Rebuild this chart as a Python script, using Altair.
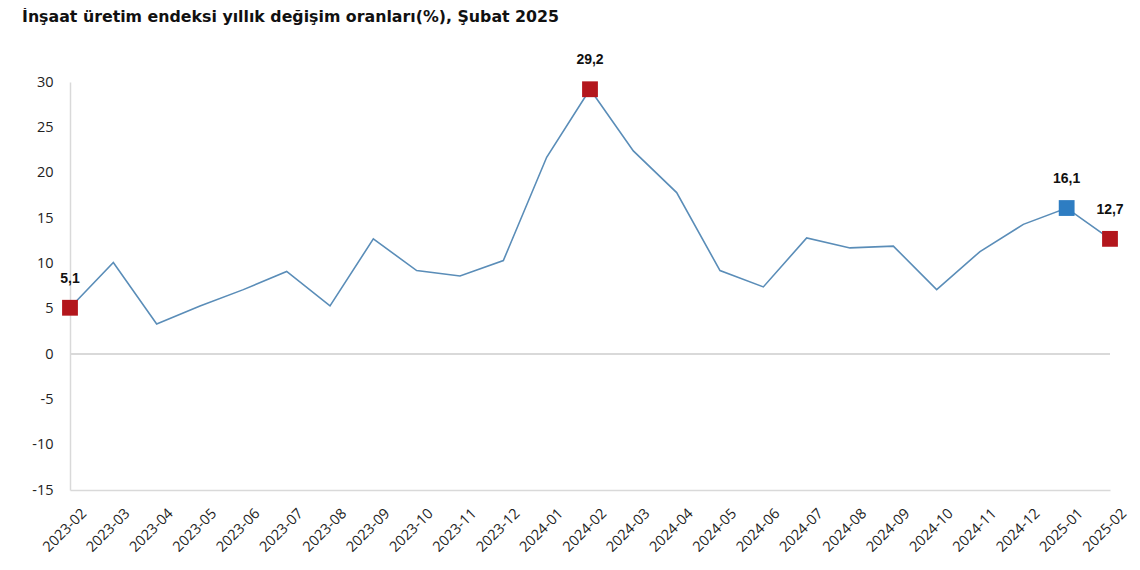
import altair as alt
import pandas as pd

months = ["2023-02", "2023-03", "2023-04", "2023-05", "2023-06", "2023-07", "2023-08",
          "2023-09", "2023-10", "2023-11", "2023-12", "2024-01", "2024-02", "2024-03",
          "2024-04", "2024-05", "2024-06", "2024-07", "2024-08", "2024-09", "2024-10",
          "2024-11", "2024-12", "2025-01", "2025-02"]
values = [5.1, 10.1, 3.3, 5.3, 7.1, 9.1, 5.3, 12.7, 9.2, 8.6, 10.3, 21.7, 29.2, 22.4,
          17.8, 9.2, 7.4, 12.8, 11.7, 11.9, 7.1, 11.3, 14.3, 16.1, 12.7]

hl_months = ["2023-02", "2024-02", "2025-01", "2025-02"]
hl_values = [5.1, 29.2, 16.1, 12.7]
hl_labels = ["5,1", "29,2", "16,1", "12,7"]
hl_colors = ["#B3161C", "#B3161C", "#2E7DC2", "#B3161C"]

df = pd.DataFrame({"month": months, "value": values})
hl = pd.DataFrame({"month": hl_months, "value": hl_values, "label": hl_labels, "color": hl_colors})

axis_font = "Open Sans"
xscale = alt.Scale(domain=months, padding=0)
yscale = alt.Scale(domain=[-15, 30], nice=False, zero=False)

x = alt.X("month:O", title=None, sort=months, scale=xscale,
          axis=alt.Axis(labelAngle=-45, labelFont=axis_font, labelFontSize=14.5,
                        labelColor="#222222", ticks=False, labelPadding=16, labelOffset=9,
                        domainColor="#d9d9d9", domainWidth=1.5, grid=False))
y = alt.Y("value:Q", title=None, scale=yscale,
          axis=alt.Axis(values=list(range(-15, 31, 5)), labelFont=axis_font, labelFontSize=14.5,
                        labelColor="#222222", ticks=False, labelPadding=17, grid=False,
                        labelExpr="toString(datum.value)",
                        domainColor="#d9d9d9", domainWidth=1.5))

base = alt.Chart(df)

zero = base.mark_rule(color="#d9d9d9", strokeWidth=1.5).encode(y=alt.datum(0))

line = base.mark_line(color="#5A8DB8", strokeWidth=1.6).encode(x=x, y=y)

pts = alt.Chart(hl).mark_square(size=250, opacity=1, filled=True).encode(
    x=alt.X("month:O", sort=months),
    y=alt.Y("value:Q"),
    color=alt.Color("color:N", scale=None),
)

txt = alt.Chart(hl).mark_text(dy=-29, font="Liberation Sans", fontWeight="bold",
                              fontSize=14, color="#111111").encode(
    x=alt.X("month:O", sort=months),
    y=alt.Y("value:Q"),
    text="label:N",
)

chart = alt.layer(line, zero, pts, txt).properties(
    width=1040, height=408,
    title=alt.TitleParams("İnşaat üretim endeksi yıllık değişim oranları(%), Şubat 2025",
                          anchor="start", frame="group", dx=-48, offset=27,
                          font="DejaVu Sans", fontSize=15.8, fontWeight="bold",
                          color="#111111"),
    autosize=alt.AutoSizeParams(type="none"),
    padding={"left": 62, "top": 74, "right": 20, "bottom": 70},
    background="white",
).configure_view(stroke=None)

chart.save("out.html", embed_options={"renderer": "svg", "actions": False})
